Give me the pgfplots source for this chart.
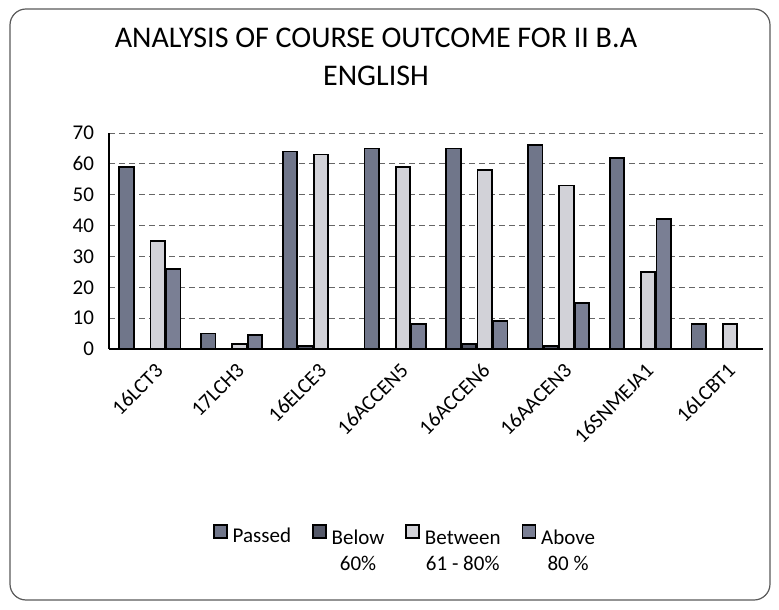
\documentclass[border=0pt]{standalone}
\usepackage{pgfplots}
\pgfplotsset{compat=1.18}
\usepackage{fontspec}
\setmainfont{Carlito}
\definecolor{cPassed}{HTML}{70768A}
\definecolor{cBelow}{HTML}{555969}
\definecolor{cBetween}{HTML}{D2D2D8}
\definecolor{cAbove}{HTML}{7A7F94}
\begin{document}
\begin{tikzpicture}[x=1pt,y=1pt]
\path[use as bounding box] (0,0) rectangle (389.5,304.5);
\draw[rounded corners=8pt, line width=0.6pt, black!65] (5,4.5) rectangle (385,300);
\node[align=center, font=\fontsize{15}{19}\selectfont] at (188,276) {ANALYSIS OF COURSE OUTCOME FOR II B.A\\ENGLISH};
\begin{axis}[
  at={(54.5pt,130pt)}, anchor=south west,
  scale only axis, width=327pt, height=108pt,
  xmin=-0.5, xmax=7.5, ymin=0, ymax=70,
  ytick={0,10,...,70},
  xtick={0,...,7},
  xticklabels={16LCT3,17LCH3,16ELCE3,16ACCEN5,16ACCEN6,16AACEN3,16SNMEJA1,16LCBT1},
  x tick label style={rotate=45, anchor=north east, font=\fontsize{10.5}{12}\selectfont, inner sep=1pt, yshift=-5pt, xshift=-2pt},
  y tick label style={font=\fontsize{10.5}{12}\selectfont, xshift=-4pt},
  /pgf/number format/assume math mode=true,
  axis x line*=bottom, axis y line*=left,
  axis line style={-, black, line width=0.8pt},
  major tick length=0pt,
  ymajorgrids, grid style={densely dashed, black!60, line width=0.4pt},
  ybar=0.6pt, bar width=7.2pt,
  every axis plot/.append style={draw=black, line width=0.9pt},
  legend columns=4,
  legend style={at={(axis description cs:0.455,-0.87)}, anchor=center, draw=none,
    font=\fontsize{10.5}{13}\selectfont,
    nodes={inner xsep=2.5pt},
    /tikz/every even column/.append style={column sep=8pt}},
  legend image code/.code={\draw[#1, line width=0.8pt] (0pt,-0.5pt) rectangle (6.5pt,6pt);},
]
\addplot[fill=cPassed] coordinates {(0,59) (1,5) (2,64) (3,65) (4,65) (5,66) (6,62) (7,8)};
\addplot[fill=cBelow] coordinates {(0,0) (1,0) (2,1) (3,0) (4,1.5) (5,1) (6,0) (7,0)};
\addplot[fill=cBetween] coordinates {(0,35) (1,1.5) (2,63) (3,59) (4,58) (5,53) (6,25) (7,8)};
\addplot[fill=cAbove] coordinates {(0,26) (1,4.5) (2,0) (3,8) (4,9) (5,15) (6,42) (7,0)};
\addlegendentry{Passed}
\addlegendentry{\begin{tabular}[t]{@{}c@{}}Below\\60\%\end{tabular}}
\addlegendentry{\begin{tabular}[t]{@{}c@{}}Between\\61 - 80\%\end{tabular}}
\addlegendentry{\begin{tabular}[t]{@{}c@{}}Above\\80 \%\end{tabular}}
\end{axis}
\end{tikzpicture}
\end{document}
